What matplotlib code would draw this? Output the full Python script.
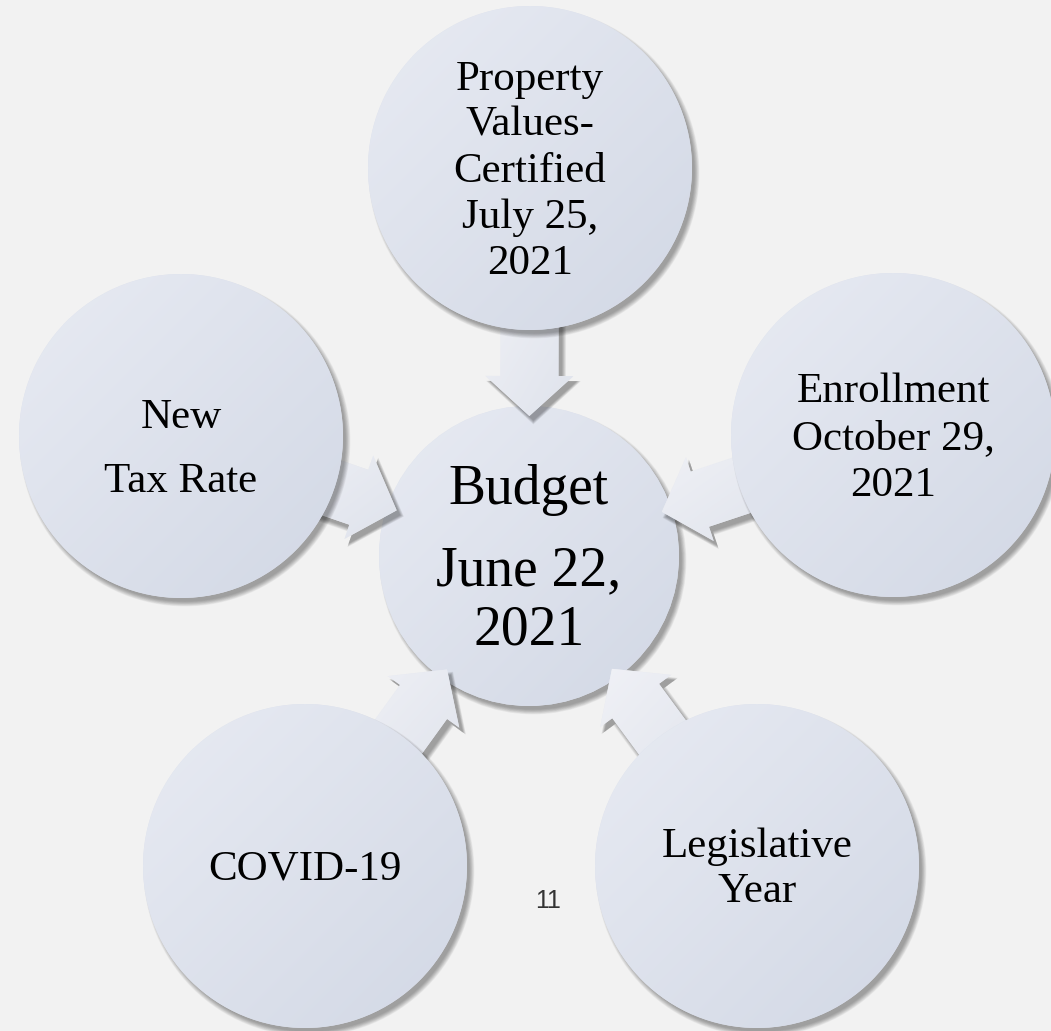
import numpy as np
import matplotlib.pyplot as plt
from matplotlib.patches import Circle, Polygon
from matplotlib.colors import LinearSegmentedColormap

# --- Diagram content ---
center_lines = ["Budget", "June 22,", "2021"]
outer_lines = [
    ["Property", "Values-", "Certified", "July 25,", "2021"],
    ["Enrollment", "October 29,", "2021"],
    ["Legislative", "Year"],
    ["COVID-19"],
    ["New", "Tax Rate"],
]
page_number = "11"

# --- Layout (pixel units, y pointing down) ---
W, H = 1051, 1031
center_xy = (529, 556)
center_r = 150
outer_xy = [(530, 168), (893, 435), (757, 866), (305, 866), (181, 436)]
outer_r = 162
outer_gap = [46, 47, 45, 45, 65]
outer_shift = [0, 0, 0, 0, 10]
center_gaps = [81, 59]

bg = "#f2f2f2"
circle_cmap = LinearSegmentedColormap.from_list("c", ["#e8ebf3", "#d2d8e5"])
arrow_cmap = LinearSegmentedColormap.from_list("a", ["#f0f1f6", "#dfe3ec"])
serif = ["Liberation Serif", "DejaVu Serif"]

fig = plt.figure(figsize=(W / 100, H / 100), dpi=100, facecolor=bg)
ax = fig.add_axes([0, 0, 1, 1])
ax.set_facecolor(bg)
ax.axis("off")


def gradient_fill(patch, cmap, z):
    ax.add_patch(patch)
    verts = patch.get_path().transformed(patch.get_patch_transform()).vertices
    x0, y0 = verts.min(axis=0)
    x1, y1 = verts.max(axis=0)
    gx, gy = np.meshgrid(np.linspace(0, 1, 80), np.linspace(0, 1, 80))
    img = (gx + gy) / 2
    im = ax.imshow(img, cmap=cmap, extent=[x0, x1, y1, y0], origin="upper",
                   zorder=z + 0.01, interpolation="bilinear", vmin=0, vmax=1)
    im.set_clip_path(patch)


def soft_shadow(make_patch, z, dx=4, dy=5, steps=9):
    # stack of faint copies, growing outward, to fake a blurred drop shadow
    for i in range(steps):
        p = make_patch(dx, dy, steps - i)
        p.set_facecolor("black")
        p.set_edgecolor("none")
        p.set_alpha(0.045)
        p.set_zorder(z)
        ax.add_patch(p)


def draw_circle(xy, r, z):
    soft_shadow(lambda dx, dy, g: Circle((xy[0] + dx, xy[1] + dy), r + g * 0.6 - 2), z)
    gradient_fill(Circle(xy, r, facecolor="#dde1ec", edgecolor="none", zorder=z + 0.005),
                  circle_cmap, z + 0.005)


def arrow_points(start, end, tip_dist, ox=0, oy=0, grow=0):
    sx, sy = start
    ex, ey = end
    d = np.hypot(ex - sx, ey - sy)
    u = np.array([ex - sx, ey - sy]) / d
    n = np.array([-u[1], u[0]])
    tip = np.array(end) - u * tip_dist
    tail = np.array(end) - u * (d - 100)
    hl, hh, sh = 40, 44 + grow, 29 + grow
    base = tip - u * hl
    pts = [tip + u * grow, base + n * hh, base + n * sh, tail + n * sh,
           tail - n * sh, base - n * sh, base - n * hh]
    return [(p[0] + ox, p[1] + oy) for p in pts]


# center circle
draw_circle(center_xy, center_r, 1)

# block arrows pointing at the center
for oxy in outer_xy:
    soft_shadow(lambda dx, dy, g: Polygon(arrow_points(oxy, center_xy, 140, dx, dy, g * 0.5 - 1)), 3)
    gradient_fill(Polygon(arrow_points(oxy, center_xy, 140), closed=True,
                          facecolor="#e8eaf1", edgecolor="none", zorder=3.5),
                  arrow_cmap, 3.5)

# outer circles
for oxy in outer_xy:
    draw_circle(oxy, outer_r, 5)


def put_lines(lines, xy, gaps, cap, size, shift=0):
    n = len(lines)
    total = sum(gaps[:n - 1])
    y = xy[1] - total / 2 + cap / 2 + shift
    for i, line in enumerate(lines):
        ax.text(xy[0], y, line, ha="center", va="baseline", fontsize=size,
                family=serif, color="black", zorder=10)
        if i < n - 1:
            y += gaps[i]


put_lines(center_lines, center_xy, center_gaps, 37, 40)
for lines, oxy, gap, shift in zip(outer_lines, outer_xy, outer_gap, outer_shift):
    put_lines(lines, oxy, [gap] * 5, 28, 31, shift)

ax.text(548, 901, page_number, ha="center", va="center", fontsize=18,
        family=["Liberation Sans", "DejaVu Sans"], color="#333333", zorder=10)

ax.set_xlim(0, W)
ax.set_ylim(H, 0)
ax.set_aspect("auto")

fig.savefig("out.png", dpi=100, facecolor=bg)
